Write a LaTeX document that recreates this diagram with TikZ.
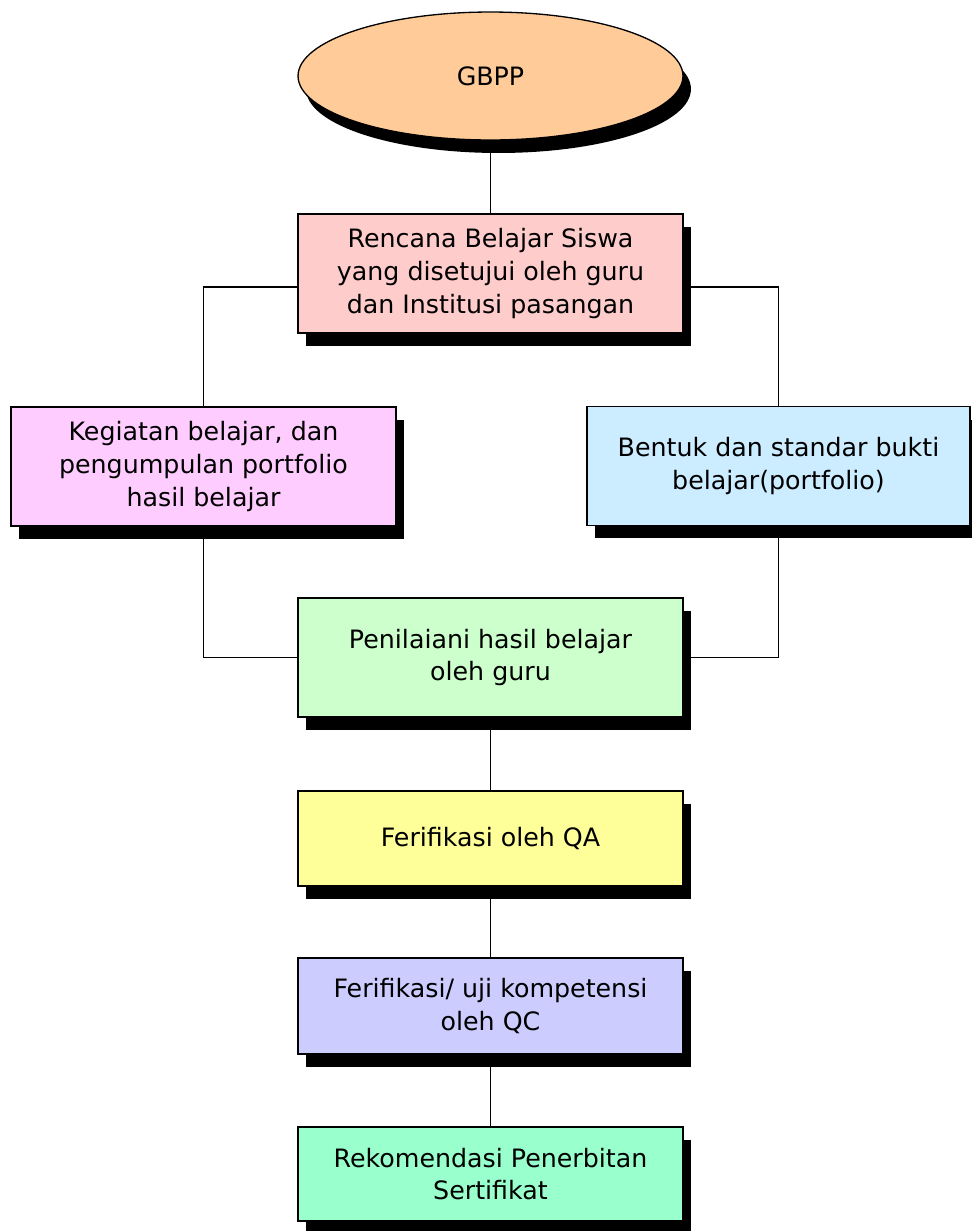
\documentclass[tikz,border=0pt]{standalone}
\usepackage{fontspec}
\setmainfont{DejaVu Sans}
\usetikzlibrary{shapes.geometric,shadows,backgrounds}

\definecolor{peach}{HTML}{FFCC99}
\definecolor{rosepink}{HTML}{FFCCCC}
\definecolor{lilac}{HTML}{FFCCFF}
\definecolor{skyblue}{HTML}{CCECFF}
\definecolor{mint}{HTML}{CCFFCC}
\definecolor{lemon}{HTML}{FFFF99}
\definecolor{lavender}{HTML}{CCCCFF}
\definecolor{aqua}{HTML}{99FFCC}

\tikzset{
  blackshadow/.style={drop shadow={shadow xshift=0.16cm,shadow yshift=-0.26cm,opacity=1,fill=black}},
  blok/.style={draw,line width=0.75pt,align=center,inner sep=0pt,
    minimum width=7.7cm,minimum height=2.38cm,blackshadow,
    font=\fontsize{14.4}{18.6}\selectfont},
  garis/.style={line width=1pt}
}

\begin{document}
\begin{tikzpicture}[x=0.02cm,y=-0.02cm]
\useasboundingbox (0,0) rectangle (971,1231);

 \node[ellipse,draw,line width=0.75pt,fill=peach,minimum width=7.7cm,minimum height=2.56cm,
   inner sep=0pt,blackshadow,font=\fontsize{14.4}{18.6}\selectfont] (gbpp) at (490.5,76) {GBPP};
 \node[blok,fill=rosepink] (rencana) at (490.5,273.5)
   {Rencana Belajar Siswa\\yang disetujui oleh guru\\dan Institusi pasangan};
 \node[blok,fill=lilac] (kegiatan) at (203.5,466.5)
   {Kegiatan belajar, dan\\pengumpulan portfolio\\hasil belajar};
 \node[blok,fill=skyblue,minimum width=7.66cm] (bentuk) at (778.5,466)
   {Bentuk dan standar bukti\\belajar(portfolio)};
 \node[blok,fill=mint] (penilaian) at (490.5,657.5)
   {Penilaiani hasil belajar\\oleh guru};
 \node[blok,fill=lemon,minimum height=1.9cm] (qa) at (490.5,838.5)
   {Ferifikasi oleh QA};
 \node[blok,fill=lavender,minimum height=1.92cm] (qc) at (490.5,1006)
   {Ferifikasi/ uji kompetensi\\oleh QC};
 \node[blok,fill=aqua,minimum height=1.88cm] (rekom) at (490.5,1174)
   {Rekomendasi Penerbitan\\Sertifikat};

\begin{scope}[on background layer]
 \draw[garis] (gbpp.south) -- (rencana.north);
 \draw[garis] ([yshift=-0.27cm]rencana.west) -| (kegiatan.north);
 \draw[garis] ([yshift=-0.27cm]rencana.east) -| (bentuk.north);
 \draw[garis] (kegiatan.south) |- (penilaian.west);
 \draw[garis] (bentuk.south) |- (penilaian.east);
 \draw[garis] (penilaian.south) -- (qa.north);
 \draw[garis] (qa.south) -- (qc.north);
 \draw[garis] (qc.south) -- (rekom.north);
\end{scope}
\end{tikzpicture}
\end{document}
